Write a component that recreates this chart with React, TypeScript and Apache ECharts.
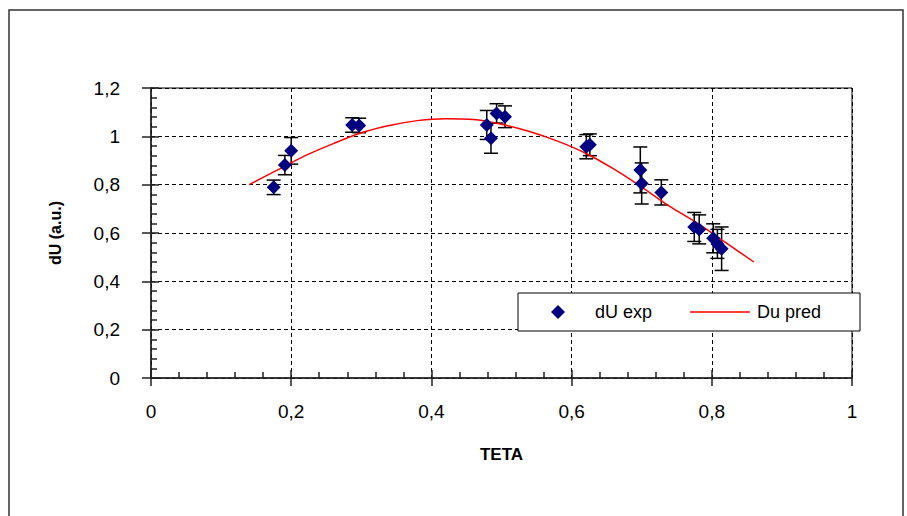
import React, { useEffect, useRef } from 'react';
import * as echarts from 'echarts';

// Experimental points (TETA, dU) and their error half-widths
const expX = [0.175, 0.191, 0.2, 0.287, 0.297, 0.479, 0.485, 0.493, 0.505, 0.621, 0.626, 0.698, 0.7, 0.728, 0.775, 0.782, 0.802, 0.808, 0.814];
const expY = [0.789, 0.881, 0.94, 1.047, 1.045, 1.047, 0.992, 1.095, 1.081, 0.957, 0.965, 0.861, 0.805, 0.768, 0.625, 0.615, 0.578, 0.555, 0.535];
const expErr = [0.03, 0.04, 0.055, 0.03, 0.03, 0.06, 0.062, 0.04, 0.045, 0.05, 0.045, 0.095, 0.085, 0.052, 0.06, 0.06, 0.06, 0.06, 0.09];

// Predicted curve
const predX = [0.14, 0.18, 0.22, 0.26, 0.3, 0.34, 0.38, 0.42, 0.46, 0.5, 0.54, 0.58, 0.62, 0.66, 0.7, 0.74, 0.78, 0.82, 0.86];
const predY = [0.8, 0.86, 0.92, 0.97, 1.015, 1.045, 1.065, 1.073, 1.07, 1.05, 1.02, 0.98, 0.93, 0.865, 0.79, 0.71, 0.64, 0.56, 0.48];

const xMin = 0;
const xMax = 1;
const yMin = 0;
const yMax = 1.2;
const step = 0.2;

const seriesNames = ['dU exp', 'Du pred'];
const xName = 'TETA';
const yName = 'dU (a.u.)';

const fmt = (v: number) => String(Math.round(v * 10) / 10).replace('.', ',');

export default function App() {
  const ref = useRef<HTMLDivElement>(null);
  useEffect(() => {
    const chart = echarts.init(ref.current!, null, { renderer: 'svg' });
    const font = 'Liberation Sans, Arial, sans-serif';
    const axisColor = '#222';
    const scatterData = expX.map((x, i) => [x, expY[i]]);
    const errData = expX.map((x, i) => [x, expY[i], expErr[i]]);
    const predData = predX.map((x, i) => [x, predY[i]]);
    const tickLine = { color: axisColor, width: 1.5 };
    const gridLine = { show: true, lineStyle: { color: '#000', width: 1, type: [4, 3] as any } };

    chart.setOption({
      animation: false,
      backgroundColor: '#fff',
      grid: { left: 151, top: 88, width: 701, height: 290, show: true, borderColor: '#000', borderWidth: 1 },
      xAxis: [
        {
          type: 'value', min: xMin, max: xMax, interval: step, position: 'bottom',
          axisLine: { show: true, onZero: false, lineStyle: tickLine },
          axisTick: { show: true, inside: false, length: 8, lineStyle: tickLine },
          axisLabel: { margin: 24, formatter: fmt, fontSize: 19, fontFamily: font, color: '#000' },
          splitLine: gridLine,
          name: xName, nameLocation: 'middle', nameGap: 68,
          nameTextStyle: { fontSize: 17, fontWeight: 'bold', fontFamily: font, color: '#000' },
        },
        {
          type: 'value', min: xMin, max: xMax, interval: step, position: 'bottom',
          axisLine: { show: false },
          axisTick: { show: true, inside: true, length: 8, lineStyle: tickLine },
          minorTick: { show: true, splitNumber: 5, length: 6, lineStyle: tickLine },
          axisLabel: { show: false },
          splitLine: { show: false },
        },
      ],
      yAxis: [
        {
          type: 'value', min: yMin, max: yMax, interval: step, position: 'left',
          axisLine: { show: true, onZero: false, lineStyle: tickLine },
          axisTick: { show: true, inside: false, length: 9, lineStyle: tickLine },
          axisLabel: { margin: 31, formatter: fmt, fontSize: 19, fontFamily: font, color: '#000' },
          splitLine: gridLine,
          name: yName, nameLocation: 'middle', nameGap: 88, nameRotate: 90,
          nameTextStyle: { fontSize: 16, fontWeight: 'bold', fontFamily: font, color: '#000' },
        },
        {
          type: 'value', min: yMin, max: yMax, interval: step, position: 'left',
          axisLine: { show: false },
          axisTick: { show: true, inside: true, length: 8, lineStyle: tickLine },
          minorTick: { show: true, splitNumber: 5, length: 6, lineStyle: tickLine },
          axisLabel: { show: false },
          splitLine: { show: false },
        },
      ],
      legend: [
        {
          data: [{ name: seriesNames[0], icon: 'diamond' }], left: 551, top: 303, itemWidth: 14, itemHeight: 14, padding: 0,
          selectedMode: false, z: 20,
          textStyle: { fontSize: 18, fontFamily: font, color: '#000', padding: [0, 0, 0, 25] },
        },
        {
          data: [{ name: seriesNames[1], icon: 'rect' }], left: 690, top: 303, itemWidth: 60, itemHeight: 1.5, padding: 0,
          selectedMode: false, z: 20,
          textStyle: { fontSize: 18, fontFamily: font, color: '#000', padding: [0, 0, 0, 2] },
        },
      ],
      graphic: [
        { type: 'rect', z: 0, shape: { x: 9, y: 10, width: 894, height: 520 }, style: { fill: 'none', stroke: '#333', lineWidth: 1.5 } },
        { type: 'rect', z: 15, shape: { x: 518, y: 293, width: 342, height: 38 }, style: { fill: '#fff', stroke: '#000', lineWidth: 1 } },
      ],
      series: [
        {
          name: 'errbars', type: 'custom', xAxisIndex: 0, yAxisIndex: 0, z: 1,
          data: errData, encode: { x: 0, y: 1 },
          renderItem: (params: any, api: any) => {
            const x = api.value(0), y = api.value(1), e = api.value(2);
            const t = api.coord([x, y + e]);
            const b = api.coord([x, y - e]);
            const hw = 7;
            const style = { stroke: '#000', lineWidth: 1.5 };
            return {
              type: 'group',
              children: [
                { type: 'line', shape: { x1: t[0], y1: t[1], x2: b[0], y2: b[1] }, style },
                { type: 'line', shape: { x1: t[0] - hw, y1: t[1], x2: t[0] + hw, y2: t[1] }, style },
                { type: 'line', shape: { x1: b[0] - hw, y1: b[1], x2: b[0] + hw, y2: b[1] }, style },
              ],
            };
          },
        },
        {
          name: seriesNames[1], type: 'line', xAxisIndex: 0, yAxisIndex: 0, z: 2,
          data: predData, symbol: 'none', smooth: 0.3,
          lineStyle: { color: '#ff0000', width: 1.5 }, itemStyle: { color: '#ff0000' },
        },
        {
          name: seriesNames[0], type: 'scatter', xAxisIndex: 0, yAxisIndex: 0, z: 3,
          data: scatterData, symbol: 'diamond', symbolSize: 14,
          itemStyle: { color: '#000080', opacity: 1 },
        },
      ],
    });
    return () => chart.dispose();
  }, []);
  return <div ref={ref} style={{ position: 'fixed', left: 0, top: 0, width: 907, height: 516 }} />;
}
